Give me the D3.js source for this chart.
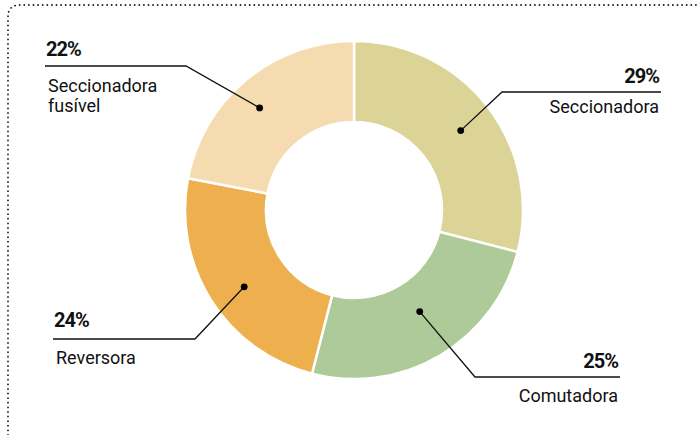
<!DOCTYPE html>
<meta charset="utf-8">
<style>
body { margin: 0; background: #fff; }
.pct { font-family: Roboto, sans-serif; font-weight: bold; font-size: 20px; letter-spacing: -1px; fill: #111; }
.lbl { font-family: Roboto, sans-serif; font-size: 18px; fill: #111; }
.leader { fill: none; stroke: #111; stroke-width: 1.3; }
</style>
<body>
<script src="https://cdn.jsdelivr.net/npm/d3@7"></script>
<script>
// slices clockwise from 12 o'clock
var names = ["Seccionadora", "Comutadora", "Reversora", "Seccionadora fusível"];
var values = [29, 25, 24, 22];
var colors = ["#dcd497", "#afca99", "#eeb04f", "#f6dbb0"];

var width = 699, height = 435;
var cx = 354, cy = 210, rOut = 169, rIn = 88;

var svg = d3.select("body").append("svg")
    .attr("width", width)
    .attr("height", height);

// dotted frame, only top and left visible
svg.append("path")
    .attr("d", "M 8 435 L 8 17 Q 8 5 20 5 L 699 5")
    .attr("fill", "none")
    .attr("stroke", "#222")
    .attr("stroke-width", 1.8)
    .attr("stroke-linecap", "round")
    .attr("stroke-dasharray", "0.1 4.5");

var pie = d3.pie().sort(null).value(d => d);
var arcs = pie(values);
var arc = d3.arc().innerRadius(rIn).outerRadius(rOut);

var g = svg.append("g").attr("transform", "translate(" + cx + "," + cy + ")");
g.selectAll("path.slice").data(arcs).enter().append("path")
    .attr("class", "slice")
    .attr("d", arc)
    .attr("fill", (d, i) => colors[i])
    .attr("stroke", "#fff")
    .attr("stroke-width", 2.5);

// label layout: dot radius, angle shift, elbow point, end of horizontal line, side
var labels = [
  {r: 133, shift: 0.02, elbow: [502, 92], end: 661, side: "right", pctY: 83, dy: 21, lines: ["Seccionadora"]},
  {r: 121, shift: -0.04, elbow: [475, 377], end: 620, side: "right", pctY: 368, dy: 25, lines: ["Comutadora"]},
  {r: 134, shift: -0.045, elbow: [195, 339], end: 53, side: "left", pctY: 327, dy: 25, lines: ["Reversora"]},
  {r: 139, shift: -0.055, elbow: [186, 66], end: 45, side: "left", pctY: 56, dy: 26, lines: ["Seccionadora", "fusível"]}
];

arcs.forEach(function(a, i) {
  var L = labels[i];
  var ang = (a.startAngle + a.endAngle) / 2 + L.shift;
  var p = [cx + L.r * Math.sin(ang), cy - L.r * Math.cos(ang)];
  svg.append("polyline")
      .attr("class", "leader")
      .attr("points", [p, L.elbow, [L.end, L.elbow[1]]].map(q => q.join(",")).join(" "));
  svg.append("circle").attr("cx", p[0]).attr("cy", p[1]).attr("r", 3.4).attr("fill", "#000");
  var anchor = L.side === "right" ? "end" : "start";
  var tx = L.side === "right" ? L.end - 2 : L.end + 1;
  svg.append("text").attr("class", "pct")
      .attr("x", tx).attr("y", L.pctY)
      .attr("text-anchor", anchor)
      .text(values[i] + "%");
  L.lines.forEach(function(s, j) {
    svg.append("text").attr("class", "lbl")
        .attr("x", L.side === "right" ? tx : tx + 2)
        .attr("y", L.elbow[1] + L.dy + j * 20)
        .attr("text-anchor", anchor)
        .text(s);
  });
});
</script>
</body>
